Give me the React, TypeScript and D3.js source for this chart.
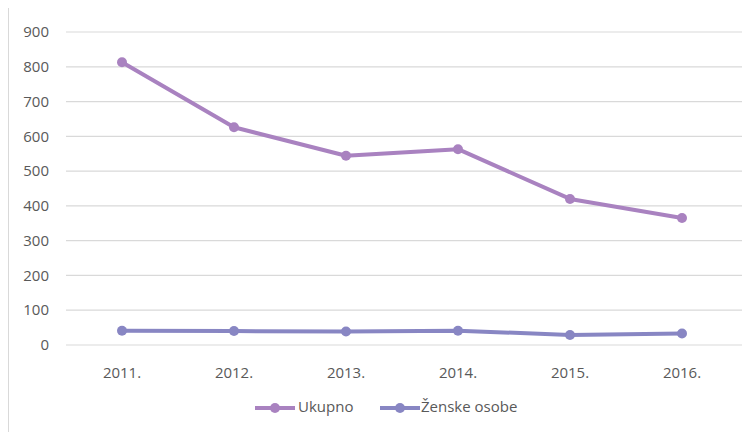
import React from "react";
import * as d3 from "d3";

const categories = ["2011.", "2012.", "2013.", "2014.", "2015.", "2016."];
const ukupno = [813, 626, 544, 563, 420, 365];
const zenske = [41, 40, 39, 41, 29, 33];
const yTicks = [0, 100, 200, 300, 400, 500, 600, 700, 800, 900];
const seriesNames = ["Ukupno", "Ženske osobe"];
const seriesColors = ["#A982C0", "#8886C3"];

export default function App() {
  const W = 749, H = 432;
  const x = d3.scaleBand<string>().domain(categories).range([66, 738]);
  const y = d3.scaleLinear().domain([0, 900]).range([345, 32]);
  const line = d3
    .line<number>()
    .x((_, i) => (x(categories[i]) as number) + x.bandwidth() / 2)
    .y((d) => y(d));
  const series = [ukupno, zenske];
  const font = "'Open Sans', Lato, sans-serif";
  const legendItems = [
    { x0: 255, tx: 298 },
    { x0: 380, tx: 421 },
  ];
  return (
    <svg width={W} height={H} style={{ position: "absolute", left: 0, top: 0 }} fontFamily={font}>
      <rect x={0} y={0} width={W} height={H} fill="#fff" />
      <line x1={8.5} x2={8.5} y1={8} y2={H} stroke="#D9D9D9" strokeWidth={1} />
      {yTicks.map((t) => (
        <g key={t}>
          <line x1={66} x2={742} y1={y(t)} y2={y(t)} stroke="#D9D9D9" strokeWidth={1.2} />
          <text x={49} y={y(t)} dy="0.35em" textAnchor="end" fontSize={15} fill="#595959">
            {t}
          </text>
        </g>
      ))}
      {categories.map((c) => (
        <text
          key={c}
          x={(x(c) as number) + x.bandwidth() / 2}
          y={373}
          dy="0.35em"
          textAnchor="middle"
          fontSize={15}
          fill="#595959"
        >
          {c}
        </text>
      ))}
      {series.map((s, si) => (
        <g key={si}>
          <path d={line(s) || ""} fill="none" stroke={seriesColors[si]} strokeWidth={4} strokeLinejoin="round" />
          {s.map((v, i) => (
            <circle
              key={i}
              cx={(x(categories[i]) as number) + x.bandwidth() / 2}
              cy={y(v)}
              r={5}
              fill={seriesColors[si]}
            />
          ))}
        </g>
      ))}
      {legendItems.map((l, i) => (
        <g key={i}>
          <line x1={l.x0} x2={l.x0 + 40} y1={408} y2={408} stroke={seriesColors[i]} strokeWidth={4} />
          <circle cx={l.x0 + 20} cy={408} r={5} fill={seriesColors[i]} />
          <text x={l.tx} y={407} dy="0.35em" fontSize={15} fill="#595959">
            {seriesNames[i]}
          </text>
        </g>
      ))}
    </svg>
  );
}
